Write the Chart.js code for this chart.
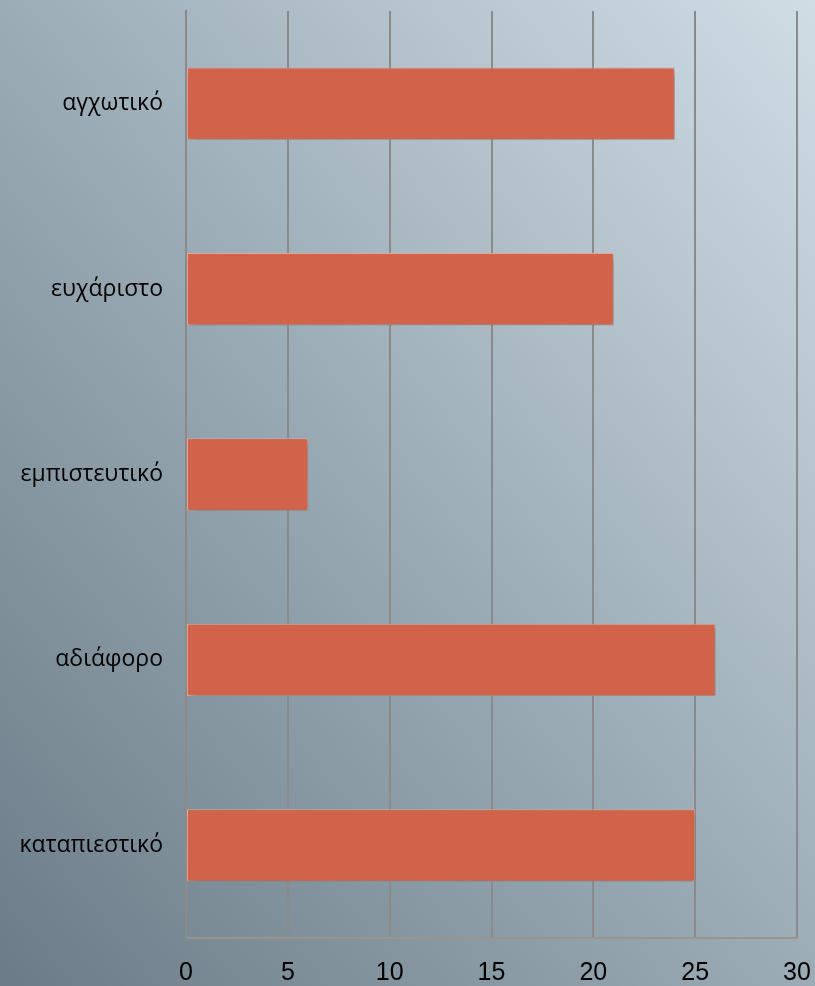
<!DOCTYPE html>
<html>
<head>
<meta charset="utf-8">
<script src="https://cdn.jsdelivr.net/npm/chart.js@4"></script>
<style>
html,body{margin:0;padding:0;}
body{width:815px;height:986px;background:linear-gradient(to top right,#6B7C88 0%,#9CACB6 50%,#CFDDE5 100%);}
#wrap{position:relative;width:815px;height:986px;}
</style>
</head>
<body>
<div id="wrap"><canvas id="c" width="815" height="986"></canvas></div>
<script>
const categories = ["αγχωτικό", "ευχάριστο", "εμπιστευτικό", "αδιάφορο", "καταπιεστικό"];
const values = [24, 21, 6, 26, 25];
const xTicks = [0, 5, 10, 15, 20, 25, 30];

const shadowPlugin = {
  id: 'barShadow',
  beforeDatasetsDraw(chart) {
    const ctx = chart.ctx;
    ctx.save();
    ctx.shadowColor = 'rgba(40,50,60,0.45)';
    ctx.shadowBlur = 7;
    ctx.shadowOffsetX = 2;
    ctx.shadowOffsetY = 3;
  },
  afterDatasetsDraw(chart) {
    chart.ctx.restore();
  }
};

new Chart(document.getElementById('c'), {
  type: 'bar',
  data: {
    labels: categories,
    datasets: [{
      data: values,
      backgroundColor: '#D1634A',
      borderColor: '#E9B0A0',
      borderWidth: 1,
      borderSkipped: false,
      barPercentage: 0.39,
      categoryPercentage: 1.0
    }]
  },
  options: {
    indexAxis: 'y',
    responsive: false,
    animation: false,
    layout: { padding: { top: 11, right: 18, left: 0, bottom: 0 } },
    plugins: { legend: { display: false }, tooltip: { enabled: false } },
    scales: {
      x: {
        min: 0, max: 30,
        afterBuildTicks(scale) { scale.ticks = xTicks.map(v => ({ value: v })); },
        afterFit(scale) { scale.height = 48; scale.paddingLeft = 0; scale.paddingRight = 0; },
        grid: { color: '#8A8A8A', lineWidth: 2, drawTicks: false },
        border: { display: true, color: '#9A948F', width: 2 },
        ticks: { color: '#000', font: { family: 'Liberation Sans, Arial', size: 25 }, padding: 20 }
      },
      y: {
        afterFit(scale) { scale.width = 186; scale.paddingTop = 0; scale.paddingBottom = 0; },
        grid: { display: false, drawTicks: false },
        border: { display: true, color: '#8A8A8A', width: 2 },
        ticks: { color: '#000', font: { family: '"Open Sans", sans-serif', size: 23 }, padding: 23 }
      }
    }
  },
  plugins: [shadowPlugin]
});
</script>
</body>
</html>
